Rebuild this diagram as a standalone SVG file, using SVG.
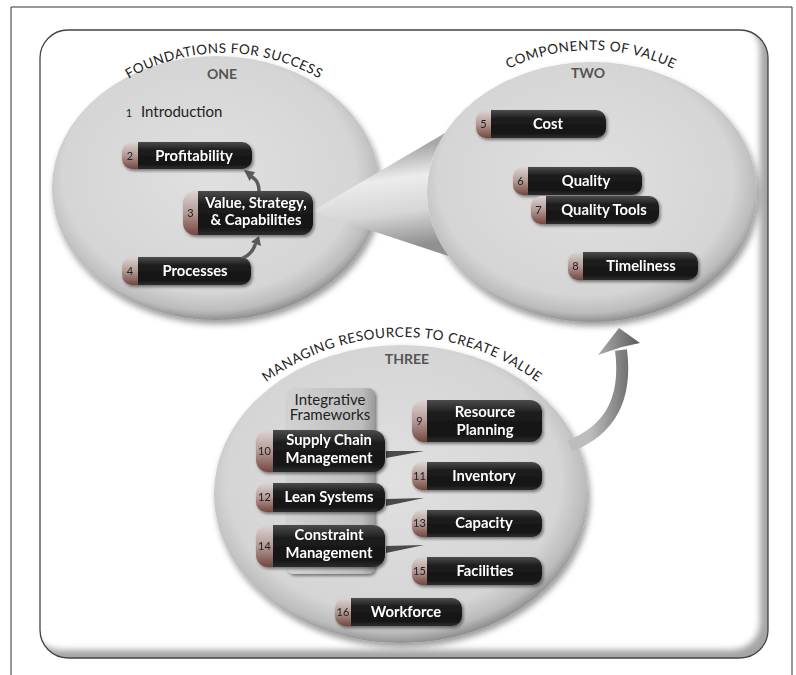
<svg xmlns="http://www.w3.org/2000/svg" width="796" height="675" viewBox="0 0 796 675">
<style>
text{font-family:Lato,"Liberation Sans",sans-serif}
.lbl{font-weight:700;font-size:14.8px;fill:#fff;text-anchor:middle}
.num{font-size:11px;fill:#222;text-anchor:middle}
.arc{font-size:13.5px;fill:#222;letter-spacing:0.5px}
.sec{font-weight:700;font-size:14px;fill:#555;text-anchor:middle}
.dark{font-size:15px;fill:#222}
.tab{fill:url(#gTab)}
.body{fill:url(#gBody)}
.circ{fill:url(#gCirc);filter:url(#shBig)}
.pill{filter:url(#sh)}
.wedge{fill:#4a4a4a}
.sarrow{fill:none;stroke:#5a5a5a;stroke-width:3.5;stroke-linecap:round}
</style>
<defs>
<linearGradient id="gTab" x1="0" y1="0" x2="0" y2="1">
<stop offset="0" stop-color="#dcd4d4"/><stop offset="0.5" stop-color="#b39a96"/><stop offset="1" stop-color="#74463f"/>
</linearGradient>
<linearGradient id="gBody" x1="0" y1="0" x2="0" y2="1">
<stop offset="0" stop-color="#4c4c4c"/><stop offset="0.3" stop-color="#1e1e1e"/><stop offset="0.8" stop-color="#131313"/><stop offset="1" stop-color="#2c2c2c"/>
</linearGradient>
<radialGradient id="gCirc" cx="0.48" cy="0.45" r="0.56">
<stop offset="0" stop-color="#e0e0e0"/><stop offset="0.8" stop-color="#d5d5d5"/><stop offset="0.92" stop-color="#bcbcbc"/><stop offset="1" stop-color="#858585"/>
</radialGradient>
<linearGradient id="gCone" gradientUnits="userSpaceOnUse" x1="385" y1="150" x2="398" y2="248">
<stop offset="0" stop-color="#a8a8a8"/><stop offset="0.3" stop-color="#ececec"/><stop offset="0.65" stop-color="#d6d6d6"/><stop offset="1" stop-color="#909090"/>
</linearGradient>
<linearGradient id="gArrow" gradientUnits="userSpaceOnUse" x1="590" y1="0" x2="640" y2="0">
<stop offset="0" stop-color="#bdbdbd"/><stop offset="1" stop-color="#5a5a5a"/>
</linearGradient>
<linearGradient id="gBox" x1="0" y1="0" x2="1" y2="0">
<stop offset="0" stop-color="#d2d2d2"/><stop offset="0.85" stop-color="#bdbdbd"/><stop offset="1" stop-color="#9a9a9a"/>
</linearGradient>
<filter id="sh" x="-10%" y="-20%" width="125%" height="160%"><feDropShadow dx="1.5" dy="2" stdDeviation="1.5" flood-color="#000" flood-opacity="0.45"/></filter>
<filter id="shBig" x="-10%" y="-10%" width="125%" height="125%"><feDropShadow dx="2" dy="4" stdDeviation="3" flood-color="#000" flood-opacity="0.4"/></filter>
<filter id="blur" x="-5%" y="-5%" width="110%" height="110%"><feGaussianBlur stdDeviation="3"/></filter>
<clipPath id="fc"><rect x="40" y="30" width="728" height="628" rx="28"/></clipPath>
</defs>

<g id="frame">
<path d="M11,675 V7 H792 V675" fill="none" stroke="#333" stroke-width="1"/>
<rect x="40" y="30" width="728" height="628" rx="28" fill="#a4a4a4"/>
<rect x="32" y="22" width="728" height="628" rx="28" fill="#fff" clip-path="url(#fc)" filter="url(#blur)"/>
<rect x="40" y="30" width="728" height="628" rx="28" fill="none" stroke="#444" stroke-width="1.3"/>
</g>

<g id="section-one">
<ellipse class="circ" cx="216" cy="188" rx="164" ry="132"/>
<path id="arcOne" d="M110,91 A190,190 0 0 1 338,91" fill="none"/>
<text class="arc"><textPath href="#arcOne" startOffset="50%" text-anchor="middle">FOUNDATIONS FOR SUCCESS</textPath></text>
<text class="sec" x="222" y="79">ONE</text>
</g>

<g id="section-two">
<ellipse class="circ" cx="592" cy="192" rx="165" ry="130"/>
<path id="arcTwo" d="M480,85.6 A191,191 0 0 1 702,85.6" fill="none"/>
<text class="arc"><textPath href="#arcTwo" startOffset="50%" text-anchor="middle">COMPONENTS OF VALUE</textPath></text>
<text class="sec" x="588" y="78">TWO</text>
</g>

<g id="section-three">
<ellipse class="circ" cx="401" cy="494" rx="187" ry="149"/>
<path id="arcThree" d="M250,395.8 A226,226 0 0 1 554,395.8" fill="none"/>
<text class="arc"><textPath href="#arcThree" startOffset="50%" text-anchor="middle">MANAGING RESOURCES TO CREATE VALUE</textPath></text>
<text class="sec" x="407" y="364">THREE</text>
</g>

<g id="connectors">
<path d="M312,211 L445,133 A165,130 0 0 0 448.4,256 Z" fill="url(#gCone)"/>
<path class="sarrow" d="M259,191 Q259,181 252,177"/>
<polygon points="244,170 255,172 249.5,181" fill="#5a5a5a"/>
<path class="sarrow" d="M243,258 Q252,254 255,245"/>
<polygon points="259,236 261,246 251,242" fill="#5a5a5a"/>
<polygon class="wedge" points="386,451 386,458 424,451"/>
<polygon class="wedge" points="386,499 386,506 424,498"/>
<polygon class="wedge" points="386,546 386,553 424,545"/>
<path d="M570,446 C605,432 628,405 621,350" fill="none" stroke="url(#gArrow)" stroke-width="12"/>
<path d="M598,355 L619,328 L640,343 L622,347 Z" fill="url(#gArrow)"/>
</g>

<g id="node-1">
<text class="num" x="129" y="117">1</text>
<text class="dark" x="141" y="117">Introduction</text>
</g>

<g id="node-2" class="pill">
<rect class="tab" x="122" y="142" width="130" height="27" rx="10"/>
<path class="body" d="M138,142 H242 A10,10 0 0 1 252,152 V159 A10,10 0 0 1 242,169 H138 Z"/>
<text class="num" x="130" y="159.5">2</text>
<text class="lbl" x="194" y="160.5">Profitability</text>
</g>

<g id="node-3" class="pill">
<rect class="tab" x="183" y="191" width="130" height="44" rx="12"/>
<path class="body" d="M198,191 H301 A12,12 0 0 1 313,203 V223 A12,12 0 0 1 301,235 H198 Z"/>
<text class="num" x="190.5" y="217">3</text>
<text class="lbl" x="256" y="208">Value, Strategy,</text>
<text class="lbl" x="256" y="225">&amp; Capabilities</text>
</g>

<g id="node-4" class="pill">
<rect class="tab" x="122" y="257" width="129" height="28" rx="10"/>
<path class="body" d="M138,257 H241 A10,10 0 0 1 251,267 V275 A10,10 0 0 1 241,285 H138 Z"/>
<text class="num" x="130" y="275">4</text>
<text class="lbl" x="195" y="276">Processes</text>
</g>

<g id="node-5" class="pill">
<rect class="tab" x="476" y="110" width="130" height="28" rx="10"/>
<path class="body" d="M491,110 H596 A10,10 0 0 1 606,120 V128 A10,10 0 0 1 596,138 H491 Z"/>
<text class="num" x="483.5" y="128">5</text>
<text class="lbl" x="548" y="129">Cost</text>
</g>

<g id="node-6" class="pill">
<rect class="tab" x="513" y="167" width="129" height="28" rx="10"/>
<path class="body" d="M528,167 H632 A10,10 0 0 1 642,177 V185 A10,10 0 0 1 632,195 H528 Z"/>
<text class="num" x="520.5" y="185">6</text>
<text class="lbl" x="586" y="186">Quality</text>
</g>

<g id="node-7" class="pill">
<rect class="tab" x="531" y="196" width="128" height="28" rx="10"/>
<path class="body" d="M546,196 H649 A10,10 0 0 1 659,206 V214 A10,10 0 0 1 649,224 H546 Z"/>
<text class="num" x="538.5" y="214">7</text>
<text class="lbl" x="604" y="215">Quality Tools</text>
</g>

<g id="node-8" class="pill">
<rect class="tab" x="568" y="252" width="130" height="28" rx="10"/>
<path class="body" d="M583,252 H688 A10,10 0 0 1 698,262 V270 A10,10 0 0 1 688,280 H583 Z"/>
<text class="num" x="575.5" y="270">8</text>
<text class="lbl" x="641" y="271">Timeliness</text>
</g>

<g id="node-integrative">
<rect x="287" y="388" width="88" height="186" rx="7" fill="url(#gBox)" filter="url(#sh)"/>
<text class="dark" x="330" y="405" text-anchor="middle" font-size="13.5">Integrative</text>
<text class="dark" x="330" y="420" text-anchor="middle" font-size="13.5">Frameworks</text>
</g>

<g id="node-9" class="pill">
<rect class="tab" x="412" y="400" width="130" height="42" rx="12"/>
<path class="body" d="M427,400 H530 A12,12 0 0 1 542,412 V430 A12,12 0 0 1 530,442 H427 Z"/>
<text class="num" x="419.5" y="425">9</text>
<text class="lbl" x="485" y="417">Resource</text>
<text class="lbl" x="485" y="435">Planning</text>
</g>

<g id="node-10" class="pill">
<rect class="tab" x="256" y="430" width="129" height="42" rx="12"/>
<path class="body" d="M273,430 H373 A12,12 0 0 1 385,442 V460 A12,12 0 0 1 373,472 H273 Z"/>
<text class="num" x="264.5" y="455">10</text>
<text class="lbl" x="329" y="445">Supply Chain</text>
<text class="lbl" x="329" y="463">Management</text>
</g>

<g id="node-11" class="pill">
<rect class="tab" x="412" y="462" width="130" height="28" rx="10"/>
<path class="body" d="M427,462 H532 A10,10 0 0 1 542,472 V480 A10,10 0 0 1 532,490 H427 Z"/>
<text class="num" x="419.5" y="480">11</text>
<text class="lbl" x="484" y="481">Inventory</text>
</g>

<g id="node-12" class="pill">
<rect class="tab" x="256" y="483" width="129" height="29" rx="10"/>
<path class="body" d="M273,483 H375 A10,10 0 0 1 385,493 V502 A10,10 0 0 1 375,512 H273 Z"/>
<text class="num" x="264.5" y="501">12</text>
<text class="lbl" x="329" y="502">Lean Systems</text>
</g>

<g id="node-13" class="pill">
<rect class="tab" x="412" y="510" width="130" height="27" rx="10"/>
<path class="body" d="M427,510 H532 A10,10 0 0 1 542,520 V527 A10,10 0 0 1 532,537 H427 Z"/>
<text class="num" x="419.5" y="527">13</text>
<text class="lbl" x="484" y="528">Capacity</text>
</g>

<g id="node-14" class="pill">
<rect class="tab" x="256" y="525" width="129" height="42" rx="12"/>
<path class="body" d="M273,525 H373 A12,12 0 0 1 385,537 V555 A12,12 0 0 1 373,567 H273 Z"/>
<text class="num" x="264.5" y="550">14</text>
<text class="lbl" x="329" y="540">Constraint</text>
<text class="lbl" x="329" y="558">Management</text>
</g>

<g id="node-15" class="pill">
<rect class="tab" x="412" y="557" width="130" height="28" rx="10"/>
<path class="body" d="M427,557 H532 A10,10 0 0 1 542,567 V575 A10,10 0 0 1 532,585 H427 Z"/>
<text class="num" x="419.5" y="575">15</text>
<text class="lbl" x="485" y="576">Facilities</text>
</g>

<g id="node-16" class="pill">
<rect class="tab" x="335" y="598" width="127" height="28" rx="10"/>
<path class="body" d="M351,598 H452 A10,10 0 0 1 462,608 V616 A10,10 0 0 1 452,626 H351 Z"/>
<text class="num" x="343" y="616">16</text>
<text class="lbl" x="406" y="617">Workforce</text>
</g>
</svg>
